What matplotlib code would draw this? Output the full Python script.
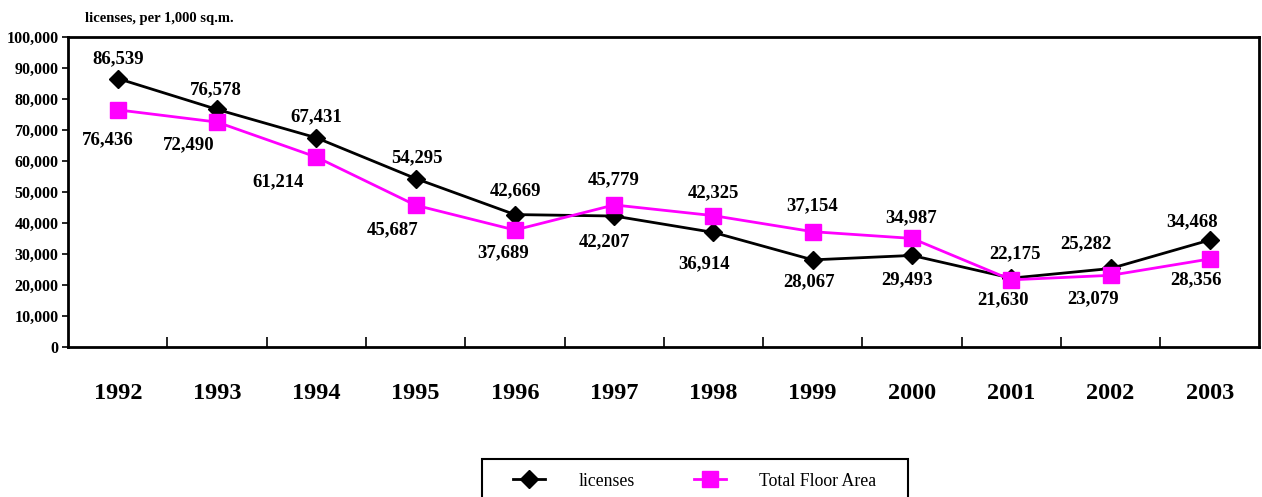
import matplotlib.pyplot as plt
from matplotlib.patches import Rectangle
import numpy as np

plt.rcParams['font.family'] = ['Liberation Serif', 'DejaVu Serif']

years = ["1992", "1993", "1994", "1995", "1996", "1997",
         "1998", "1999", "2000", "2001", "2002", "2003"]
licenses = [86539, 76578, 67431, 54295, 42669, 42207,
            36914, 28067, 29493, 22175, 25282, 34468]
floor_area = [76436, 72490, 61214, 45687, 37689, 45779,
              42325, 37154, 34987, 21630, 23079, 28356]

# label offsets in pixels (dx, dy) relative to each point
lic_off = [(0, 20), (-1, 20), (0, 21), (1, 21), (1, 24), (-10, -26),
           (-9, -31), (-4, -22), (-5, -24), (4, 24), (-25, 25), (-18, 18)]
fa_off = [(-10, -30), (-28, -23), (-38, -25), (-23, -25), (-12, -23), (0, 25),
          (0, 23), (-1, 26), (-1, 21), (-8, -20), (-17, -23), (-14, -21)]

W, H = 1262, 497
fig = plt.figure(figsize=(W / 100, H / 100), dpi=100)
ax = fig.add_axes([0.054, 0.302, 0.944, 0.624])

x = np.arange(len(years))
ax.plot(x, licenses, color="black", lw=2, marker="D", ms=9, mfc="black",
        mec="black", label="licenses", zorder=3)
ax.plot(x, floor_area, color="#FF00FF", lw=2, marker="s", ms=12, mfc="#FF00FF",
        mec="#FF00FF", label="Total Floor Area", zorder=4)

for i in range(len(years)):
    ax.annotate(f"{licenses[i]:,}", (x[i], licenses[i]), xytext=lic_off[i],
                textcoords="offset pixels", ha="center", va="center",
                fontsize=13.5, fontweight="bold", zorder=5)
    ax.annotate(f"{floor_area[i]:,}", (x[i], floor_area[i]), xytext=fa_off[i],
                textcoords="offset pixels", ha="center", va="center",
                fontsize=13.5, fontweight="bold", zorder=5)

ax.set_xlim(-0.5, len(years) - 0.5)
ax.set_ylim(0, 100000)
ax.set_yticks(range(0, 100001, 10000))
ax.set_yticklabels([f"{v:,}" for v in range(0, 100001, 10000)],
                   fontsize=11.5, fontweight="bold")
ax.tick_params(axis="y", direction="out", length=4, width=1.2, pad=3)

ax.set_xticks(x)
ax.set_xticklabels(years, fontsize=17.5, fontweight="bold")
ax.tick_params(axis="x", length=0, pad=26)
ax.set_xticks(np.arange(0.5, len(years) - 1, 1), minor=True)
ax.tick_params(axis="x", which="minor", direction="in", length=7, width=1.2)

for s in ax.spines.values():
    s.set_linewidth(2)
    s.set_color("black")

fig.text(0.067, 0.963, "licenses, per 1,000 sq.m.", fontsize=10.5,
         fontweight="bold", ha="left", va="center")

# legend box runs off the bottom edge, as in the original
fig.add_artist(Rectangle((482 / W, -0.05), 426 / W, 0.05 + 1 - 459 / H,
                         transform=fig.transFigure, fill=False,
                         edgecolor="black", lw=1.5))
fig.legend(loc="center left", bbox_to_anchor=(513 / W, 1 - 481 / H), ncol=2,
           fontsize=12.8, frameon=False, handlelength=1.8, columnspacing=3.3,
           handletextpad=1.9, borderpad=0, borderaxespad=0, numpoints=1)

fig.savefig("out.png", dpi=100)
